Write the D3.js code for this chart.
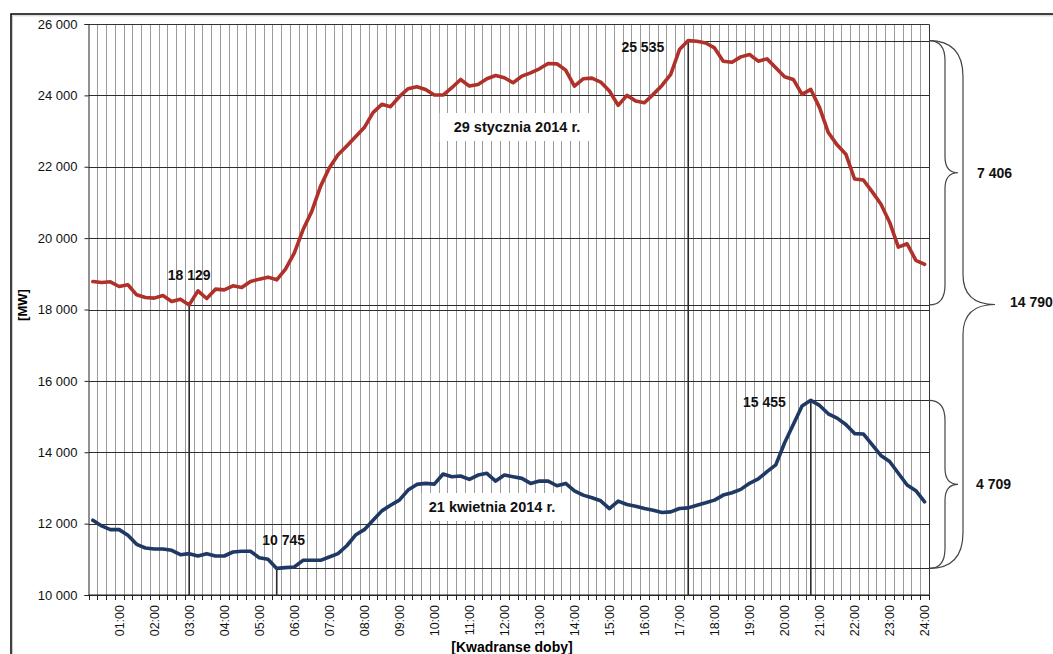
<!DOCTYPE html>
<html>
<head>
<meta charset="utf-8">
<script src="https://cdn.jsdelivr.net/npm/d3@7"></script>
<style>
  html, body { margin: 0; padding: 0; background: #fff; }
  svg { display: block; font-family: "Liberation Sans", Arial, sans-serif; }
</style>
</head>
<body>
<svg id="chart" width="1053" height="654"></svg>
<script>
// ---- data ----
const hourLabels = ["01:00","02:00","03:00","04:00","05:00","06:00","07:00","08:00","09:00","10:00","11:00","12:00",
                    "13:00","14:00","15:00","16:00","17:00","18:00","19:00","20:00","21:00","22:00","23:00","24:00"];
const categories = d3.range(1, 97).map(q => {
  const m = q * 15;
  return String(Math.floor(m / 60)).padStart(2, "0") + ":" + String(m % 60).padStart(2, "0");
});
const yTicks = [10000, 12000, 14000, 16000, 18000, 20000, 22000, 24000, 26000];

const january = [
  18785, 18757, 18776, 18645, 18692, 18411, 18337, 18318, 18393, 18224,
  18290, 18129, 18523, 18308, 18570, 18551, 18664, 18617, 18785, 18851,
  18907, 18832, 19131, 19580, 20234, 20749, 21450, 21964, 22338, 22580,
  22840, 23098, 23516, 23749, 23684, 23963, 24186, 24242, 24167, 24009,
  24009, 24214, 24446, 24260, 24307, 24465, 24558, 24493, 24353, 24539,
  24632, 24744, 24893, 24884, 24707, 24260, 24465, 24484, 24372, 24121,
  23721, 24000, 23842, 23795, 24028, 24279, 24586, 25284, 25535, 25516,
  25469, 25330, 24958, 24930, 25079, 25144, 24958, 25023, 24772, 24521,
  24446, 24028, 24167, 23656, 22958, 22614, 22353, 21656, 21628, 21302,
  20958, 20446, 19749, 19842, 19377, 19265
];
const april = [
  12094, 11935, 11832, 11832, 11673, 11420, 11317, 11289, 11289, 11252,
  11130, 11159, 11093, 11159, 11093, 11093, 11205, 11224, 11224, 11046,
  10999, 10745, 10766, 10785, 10972, 10972, 10972, 11065, 11159, 11380,
  11680, 11831, 12094, 12357, 12516, 12657, 12939, 13099, 13127, 13108,
  13390, 13315, 13333, 13239, 13362, 13409, 13192, 13362, 13315, 13268,
  13127, 13192, 13192, 13061, 13127, 12920, 12798, 12723, 12639, 12423,
  12629, 12535, 12488, 12423, 12376, 12310, 12329, 12423, 12441, 12516,
  12583, 12659, 12800, 12866, 12960, 13129, 13252, 13459, 13647, 14258,
  14776, 15294, 15455, 15312, 15077, 14955, 14776, 14522, 14512, 14211,
  13910, 13741, 13412, 13082, 12922, 12612
];
const seriesNames = ["29 stycznia 2014 r.", "21 kwietnia 2014 r."];
const braceLabels = ["7 406", "14 790", "4 709"];
const yTitle = "[MW]";
const xTitle = "[Kwadranse doby]";

// ---- layout ----
const svg = d3.select("#chart");
const L = 88.5, R = 929, T = 24, B = 595;
const x = d3.scaleBand().domain(categories).range([L, R]).padding(0);
const y = d3.scaleLinear().domain([10000, 26000]).range([B, T]);
const cx = i => x(categories[i]) + x.bandwidth() / 2;
const fmt = v => d3.format(",")(v).replace(/,/g, " ");
const crisp = v => Math.round(v) + 0.5;

svg.append("rect").attr("width", 1053).attr("height", 654).attr("fill", "#fff");
// outer frame
svg.append("path").attr("d", "M11,654 V14 H1053").attr("fill", "none").attr("stroke", "#000").attr("stroke-width", 1.5);
svg.append("path").attr("d", "M12.5,654 V15.8 H1053").attr("fill", "none").attr("stroke", "#ccc").attr("stroke-width", 1);

// vertical gridlines
const bounds = categories.map(c => x(c)).concat([R]);
svg.append("g").selectAll("line").data(bounds.slice(1, -1)).join("line")
  .attr("x1", d => crisp(d)).attr("x2", d => crisp(d)).attr("y1", T).attr("y2", B)
  .attr("stroke", "#9a9a9a").attr("stroke-width", 1);

// horizontal gridlines
svg.append("g").selectAll("line").data(yTicks).join("line")
  .attr("x1", L).attr("x2", R).attr("y1", d => crisp(y(d))).attr("y2", d => crisp(y(d)))
  .attr("stroke", "#2e2e2e").attr("stroke-width", 1);

// plot border right / top
svg.append("path").attr("d", `M${L},${crisp(T)} H${crisp(R)} V${B}`).attr("fill", "none").attr("stroke", "#333").attr("stroke-width", 1);

// y axis
const yAxis = svg.append("g").attr("transform", `translate(${L},0)`)
  .call(d3.axisLeft(y).tickValues(yTicks).tickSize(4).tickPadding(7).tickFormat(fmt));
yAxis.select(".domain").attr("stroke", "#222");
yAxis.selectAll(".tick line").attr("stroke", "#222");
yAxis.selectAll("text").attr("font-size", 13).attr("fill", "#111").attr("font-family", "Liberation Sans, Arial, sans-serif");

// x axis: line + ticks at category boundaries + rotated labels
svg.append("line").attr("x1", L).attr("x2", R).attr("y1", B).attr("y2", B).attr("stroke", "#222").attr("stroke-width", 1.2);
svg.append("g").selectAll("line").data(bounds).join("line")
  .attr("x1", d => crisp(d)).attr("x2", d => crisp(d)).attr("y1", B).attr("y2", B + 5)
  .attr("stroke", "#222").attr("stroke-width", 1);
svg.append("g").selectAll("text").data(hourLabels).join("text")
  .attr("transform", d => `translate(${x.bandwidth() / 2 + x(d)},605) rotate(-90)`)
  .attr("text-anchor", "end").attr("dy", "0.35em")
  .attr("font-size", 12.5).attr("fill", "#111").text(d => d);

// axis titles
svg.append("text").attr("transform", "translate(27,305) rotate(-90)")
  .attr("text-anchor", "middle").attr("font-size", 13).attr("font-weight", "bold").text(yTitle);
svg.append("text").attr("x", 512).attr("y", 652)
  .attr("text-anchor", "middle").attr("font-size", 14).attr("font-weight", "bold").text(xTitle);

// reference lines for extrema
const jMin = d3.minIndex(january), jMax = d3.maxIndex(january);
const aMin = d3.minIndex(april), aMax = d3.maxIndex(april);
const refs = [[jMin, january[jMin]], [jMax, january[jMax]], [aMin, april[aMin]], [aMax, april[aMax]]];
const refG = svg.append("g").attr("stroke", "#2a2a2a").attr("fill", "none");
refs.forEach(([i, v]) => {
  refG.append("line").attr("x1", cx(i)).attr("x2", cx(i)).attr("y1", y(v)).attr("y2", B).attr("stroke-width", 1.6);
  refG.append("line").attr("x1", cx(i)).attr("x2", R).attr("y1", crisp(y(v))).attr("y2", crisp(y(v))).attr("stroke-width", 1);
});

// series lines
const line = d3.line().x((d, i) => cx(i)).y(d => y(d));
svg.append("path").datum(january).attr("d", line).attr("fill", "none")
  .attr("stroke", "#B0302A").attr("stroke-width", 3.6).attr("stroke-linejoin", "round").attr("stroke-linecap", "round");
svg.append("path").datum(april).attr("d", line).attr("fill", "none")
  .attr("stroke", "#1F3864").attr("stroke-width", 3.6).attr("stroke-linejoin", "round").attr("stroke-linecap", "round");

// series name labels with white boxes
function boxedLabel(txt, xc, yc, padX) {
  const g = svg.append("g");
  const rect = g.append("rect").attr("fill", "#fff");
  const t = g.append("text").attr("x", xc).attr("y", yc).attr("dy", "0.35em")
    .attr("text-anchor", "middle").attr("font-size", 14.5).attr("font-weight", "bold").attr("fill", "#111").text(txt);
  const bb = t.node().getBBox();
  rect.attr("x", bb.x - padX).attr("y", yc - 14).attr("width", bb.width + 2 * padX).attr("height", 28);
}
boxedLabel(seriesNames[0], 517, 127, 14);
boxedLabel(seriesNames[1], 492, 507, 7);

// extrema value labels
const valLab = (txt, xx, yy, anchor) => svg.append("text").attr("x", xx).attr("y", yy)
  .attr("text-anchor", anchor).attr("font-size", 14).attr("font-weight", "bold").attr("fill", "#111").text(txt);
valLab(fmt(january[jMin]), cx(jMin), y(january[jMin]) - 25, "middle");
valLab(fmt(january[jMax]), cx(jMax) - 24, y(january[jMax]) + 11, "end");
valLab(fmt(april[aMin]), cx(aMin) + 7, y(april[aMin]) - 23, "middle");
valLab(fmt(april[aMax]), cx(aMax) - 25, y(april[aMax]) + 7, "end");

// braces
function brace(y1, y2, d, t, r, r2) {
  const x0 = R, ym = (y1 + y2) / 2;
  const p = `M${x0},${y1} Q${x0 + d},${y1} ${x0 + d},${y1 + r} L${x0 + d},${ym - r2} ` +
            `Q${x0 + d},${ym} ${x0 + t},${ym} Q${x0 + d},${ym} ${x0 + d},${ym + r2} ` +
            `L${x0 + d},${y2 - r} Q${x0 + d},${y2} ${x0},${y2}`;
  svg.append("path").attr("d", p).attr("fill", "none").attr("stroke", "#444").attr("stroke-width", 1.2);
  return ym;
}
const b1 = brace(y(january[jMax]), y(january[jMin]), 16, 29, 20, 16);
const b2 = brace(y(january[jMax]), y(april[aMin]), 34, 66, 36, 30);
const b3 = brace(y(april[aMax]), y(april[aMin]), 16, 29, 20, 16);
const bLab = (txt, xx, yy) => svg.append("text").attr("x", xx).attr("y", yy).attr("dy", "0.35em")
  .attr("font-size", 14).attr("font-weight", "bold").attr("fill", "#111").text(txt);
bLab(braceLabels[0], 977, b1);
bLab(braceLabels[1], 1010, b2 - 2);
bLab(braceLabels[2], 976, b3);
</script>
</body>
</html>
